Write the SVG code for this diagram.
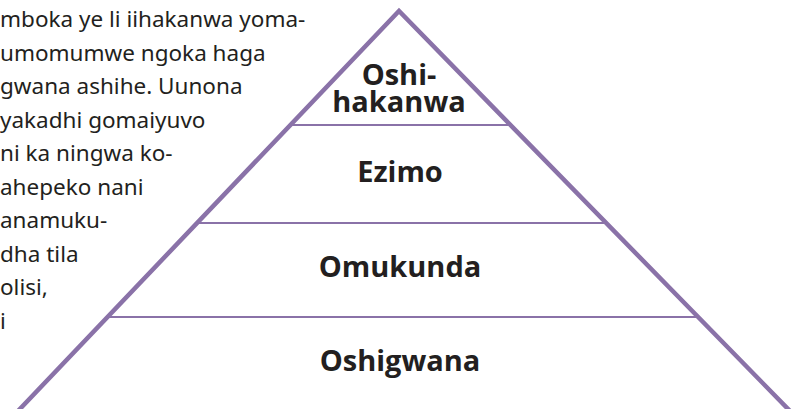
<svg xmlns="http://www.w3.org/2000/svg" width="802" height="409" viewBox="0 0 802 409">
<style>
.body{font-family:"Noto Sans","Open Sans",sans-serif;font-size:22.5px;fill:#231f20}
.lbl{font-family:"Open Sans","Noto Sans",sans-serif;font-weight:700;font-size:29px;fill:#231f20;text-anchor:middle}
.edge{fill:none;stroke:#8a72a8;stroke-width:4.5;stroke-linejoin:miter}
.div{stroke:#8a72a8;stroke-width:2.2}
</style>
<rect width="802" height="409" fill="#ffffff"/>
<g id="paragraph">
<text class="body" x="0" y="27">mboka ye li iihakanwa yoma-</text>
<text class="body" x="0" y="60.5">umomumwe ngoka haga</text>
<text class="body" x="0" y="94">gwana ashihe. Uunona</text>
<text class="body" x="0" y="127.5">yakadhi gomaiyuvo</text>
<text class="body" x="0" y="161">ni ka ningwa ko-</text>
<text class="body" x="0" y="194.5">ahepeko nani</text>
<text class="body" x="0" y="228">anamuku-</text>
<text class="body" x="0" y="261.5">dha tila</text>
<text class="body" x="0" y="295">olisi,</text>
<text class="body" x="0" y="328.5">i</text>
</g>
<g id="connectors">
<polyline class="edge" points="18,411 399,11 790,411"/>
<line class="div" x1="290" y1="125" x2="511" y2="125"/>
<line class="div" x1="196" y1="223" x2="607" y2="223"/>
<line class="div" x1="106" y1="317" x2="700" y2="317"/>
</g>
<g id="tier-oshihakanwa">
<text class="lbl" x="399" y="85">Oshi-<tspan x="399" dy="27">hakanwa</tspan></text>
</g>
<g id="tier-ezimo">
<text class="lbl" x="400" y="182">Ezimo</text>
</g>
<g id="tier-omukunda">
<text class="lbl" x="400" y="277">Omukunda</text>
</g>
<g id="tier-oshigwana">
<text class="lbl" x="400" y="371">Oshigwana</text>
</g>
</svg>
